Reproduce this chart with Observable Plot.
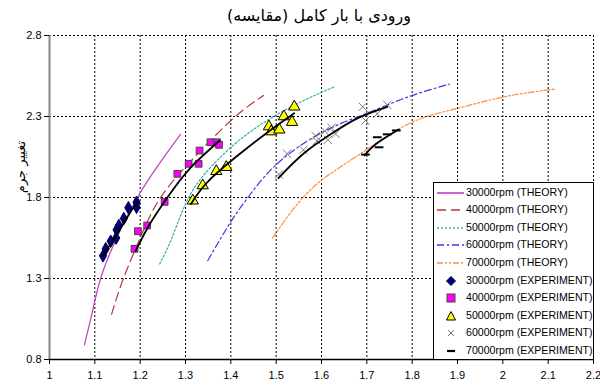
<!DOCTYPE html>
<html><head><meta charset="utf-8">
<script src="https://cdn.jsdelivr.net/npm/d3@7"></script>
<script src="https://cdn.jsdelivr.net/npm/@observablehq/plot@0.6"></script>
<style>
body{margin:0;background:#fff;}
#wrap{position:relative;width:600px;height:385px;overflow:hidden;}
#title{position:absolute;left:194px;width:250px;top:6px;text-align:center;font:16px "DejaVu Sans",sans-serif;direction:rtl;color:#000;}
#ylab{position:absolute;left:20px;top:167px;transform:translate(-50%,-50%) rotate(-90deg);font:13px "DejaVu Sans",sans-serif;white-space:nowrap;direction:rtl;}
#legend{position:absolute;left:433px;top:182px;width:159px;height:176px;background:#fff;border:1px solid #000;font:10.6px "Liberation Sans",Arial,sans-serif;color:#000;}
.row{position:absolute;left:0;height:17.6px;width:160px;}
.row svg{position:absolute;left:2px;top:0;}
.row span{position:absolute;left:32px;top:2px;white-space:nowrap;}
</style></head><body>
<div id="wrap">
<div id="title">ورودی با بار کامل (مقایسه)</div>
<div id="ylab">تغییر جرم</div>
</div>
<script>
// ---- data ----
const xTicks = [1, 1.1, 1.2, 1.3, 1.4, 1.5, 1.6, 1.7, 1.8, 1.9, 2, 2.1, 2.2];
const yTicks = [0.8, 1.3, 1.8, 2.3, 2.8];

// theory curves [x, y]
const theory30000 = [[1.077,0.89],[1.095,1.10],[1.115,1.32],[1.15,1.56],[1.194,1.80],[1.24,2.00],[1.289,2.19]];
const theory40000 = [[1.137,1.08],[1.163,1.30],[1.20,1.55],[1.245,1.80],[1.32,2.05],[1.406,2.29],[1.472,2.43]];
const theory50000 = [[1.243,1.39],[1.27,1.55],[1.307,1.80],[1.36,2.00],[1.44,2.20],[1.54,2.37],[1.63,2.485]];
const theory60000 = [[1.349,1.41],[1.40,1.65],[1.443,1.82],[1.503,2.01],[1.60,2.20],[1.70,2.32],[1.79,2.42],[1.882,2.50]];
const theory70000 = [[1.492,1.55],[1.53,1.70],[1.591,1.886],[1.686,2.07],[1.796,2.26],[1.90,2.35],[2.0,2.42],[2.116,2.47]];

// experiment points [x, y]
const exp30000 = [[1.118,1.44],[1.124,1.483],[1.135,1.53],[1.147,1.55],[1.148,1.60],[1.153,1.627],[1.164,1.67],[1.174,1.737],[1.192,1.77],[1.192,1.74]];
const exp40000 = [[1.1875,1.483],[1.195,1.592],[1.2155,1.627],[1.254,1.773],[1.282,1.946],[1.307,2.008],[1.329,2.008],[1.331,2.09],[1.355,2.141],[1.37,2.141],[1.374,2.125]];
const exp50000 = [[1.316,1.78],[1.338,1.874],[1.368,1.962],[1.39,1.987],[1.484,2.238],[1.489,2.207],[1.507,2.218],[1.517,2.30],[1.535,2.265],[1.54,2.36]];
const exp60000 = [[1.506,1.942],[1.524,2.07],[1.56,2.094],[1.587,2.18],[1.59,2.15],[1.607,2.21],[1.614,2.156],[1.622,2.23],[1.631,2.193],[1.691,2.36],[1.697,2.275],[1.723,2.317],[1.745,2.372]];
const exp70000 = [[1.697,2.065],[1.727,2.11],[1.723,2.172],[1.745,2.19],[1.765,2.214]];

// experiment fit curves [x, y]
const fit30000 = [[1.118,1.44],[1.15,1.58],[1.192,1.77]];
const fit40000 = [[1.19,1.47],[1.22,1.63],[1.26,1.80],[1.31,1.98],[1.375,2.15]];
const fit50000 = [[1.312,1.76],[1.35,1.90],[1.42,2.07],[1.48,2.20],[1.54,2.32]];
const fit60000 = [[1.505,1.92],[1.56,2.07],[1.62,2.19],[1.68,2.29],[1.745,2.36]];
const fit70000 = [[1.695,2.06],[1.72,2.13],[1.77,2.22]];

const theoryNames = ["30000rpm (THEORY)","40000rpm (THEORY)","50000rpm (THEORY)","60000rpm (THEORY)","70000rpm (THEORY)"];
const expNames = ["30000rpm (EXPERIMENT)","40000rpm (EXPERIMENT)","50000rpm (EXPERIMENT)","60000rpm (EXPERIMENT)","70000rpm (EXPERIMENT)"];

// ---- styles ----
const theoryStyles = [
  {stroke:"#C040C0", dash:null},
  {stroke:"#B03A3A", dash:"9,5"},
  {stroke:"#3AAAAA", dash:"2,2"},
  {stroke:"#3838F0", dash:"7,3,2,3"},
  {stroke:"#FF8C3A", dash:"6,2,2,2,2,2"}
];
const dashSym = {draw(ctx, size){ const w = Math.sqrt(size) * 0.55; ctx.moveTo(-w, 0); ctx.lineTo(w, 0); }};

const theories = [theory30000, theory40000, theory50000, theory60000, theory70000];
const fits = [fit30000, fit40000, fit50000, fit60000, fit70000];
const X = d => d[0], Y = d => d[1];

const marks = [
  Plot.ruleX(xTicks.slice(1), {stroke:"#000", strokeWidth:1, strokeDasharray:"2,2"}),
  Plot.ruleY(yTicks.slice(1), {stroke:"#000", strokeWidth:1, strokeDasharray:"2,2"}),
  ...theories.map((t, i) => Plot.line(t, {x:X, y:Y, stroke:theoryStyles[i].stroke, strokeWidth:1.2, strokeDasharray:theoryStyles[i].dash, curve:"natural"})),
  Plot.dot(exp30000, {x:X, y:Y, symbol:"diamond", r:3.8, fill:"#000080", stroke:"#000040", strokeWidth:1}),
  Plot.dot(exp40000, {x:X, y:Y, symbol:"square", r:3.8, fill:"#FF00FF", stroke:"#444", strokeWidth:1}),
  Plot.dot(exp50000, {x:X, y:Y, symbol:"triangle", r:4.2, fill:"#FFFF00", stroke:"#000", strokeWidth:1}),
  Plot.dot(exp60000, {x:X, y:Y, symbol:"times", r:3.8, stroke:"#777", strokeWidth:1}),
  Plot.dot(exp70000, {x:X, y:Y, symbol:dashSym, r:4.5, stroke:"#000", strokeWidth:2}),
  ...fits.map(f => Plot.line(f, {x:X, y:Y, stroke:"#000", strokeWidth:1.8, curve:"natural"})),
  Plot.ruleX([1], {stroke:"#888", strokeWidth:2}),
  Plot.ruleY([0.8], {stroke:"#000", strokeWidth:1.5}),
  Plot.axisX({ticks:xTicks, tickSize:5, tickPadding:7, fontSize:11, label:null, tickFormat:d => String(d)}),
  Plot.axisY({ticks:yTicks, tickSize:5, tickPadding:3, fontSize:11, label:null, tickFormat:d => String(d)})
];

const chart = Plot.plot({
  width:600, height:385,
  marginLeft:49, marginRight:7, marginTop:35, marginBottom:26,
  x:{domain:[1,2.2]},
  y:{domain:[0.8,2.8]},
  style:{fontFamily:"'Liberation Sans', Arial, sans-serif", fontSize:"11px", color:"#000", background:"#fff"},
  marks
});
const wrap = document.getElementById("wrap");
wrap.insertBefore(chart, wrap.firstChild);

// ---- legend ----
const legend = document.createElement("div");
legend.id = "legend";
const rowH = 17.6;
const names = [...theoryNames, ...expNames];
names.forEach((name, i) => {
  const row = document.createElement("div");
  row.className = "row";
  row.style.top = (i * rowH + 0.5) + "px";
  let sw = "";
  if (i < 5) {
    const s = theoryStyles[i];
    sw = `<line x1="1" x2="28" y1="9" y2="9" stroke="${s.stroke}" stroke-width="1.6" ${s.dash ? `stroke-dasharray="${s.dash}"` : ""}/>`;
  } else {
    const k = i - 5;
    if (k === 0) sw = `<path d="M15,4.5L19.5,9L15,13.5L10.5,9Z" fill="#000080" stroke="#000040"/>`;
    if (k === 1) sw = `<rect x="11" y="5" width="8" height="8" fill="#FF00FF" stroke="#444"/>`;
    if (k === 2) sw = `<path d="M15,4.5L19.5,13L10.5,13Z" fill="#FFFF00" stroke="#000"/>`;
    if (k === 3) sw = `<path d="M12,6L18,12M18,6L12,12" stroke="#777" fill="none"/>`;
    if (k === 4) sw = `<line x1="11" x2="19" y1="9" y2="9" stroke="#000" stroke-width="2.2"/>`;
  }
  row.innerHTML = `<svg width="30" height="18">${sw}</svg><span>${name}</span>`;
  legend.appendChild(row);
});
wrap.appendChild(legend);
</script>
</body></html>
